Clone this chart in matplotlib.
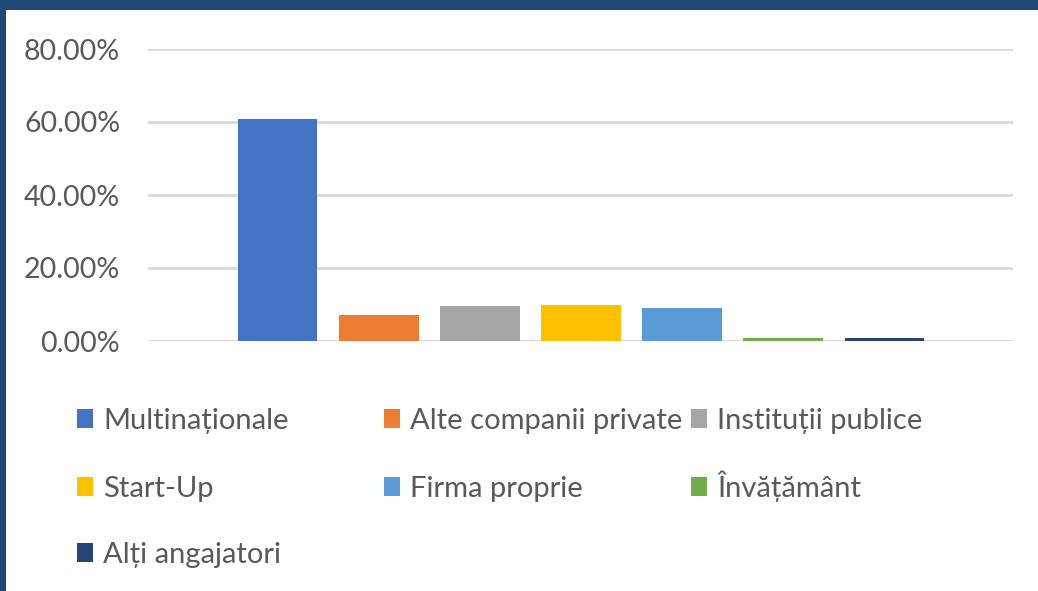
import matplotlib
matplotlib.use("Agg")
import matplotlib.pyplot as plt
from matplotlib.patches import Rectangle
from matplotlib.ticker import PercentFormatter

categories = ["Multinaționale", "Alte companii private", "Instituții publice",
              "Start-Up", "Firma proprie", "Învățământ", "Alți angajatori"]
values = [0.608, 0.072, 0.095, 0.100, 0.090, 0.009, 0.008]
colors = ["#4472C4", "#ED7D31", "#A5A5A5", "#FFC000", "#5B9BD5", "#70AD47", "#264478"]

plt.rcParams['font.family'] = ['Lato', 'DejaVu Sans']

fig = plt.figure(figsize=(10.38, 5.91), dpi=100)
fig.patch.set_facecolor("#1F4A78")
fig.add_artist(Rectangle((6 / 1038, 0), 1 - 6 / 1038, 1 - 10 / 591,
                         transform=fig.transFigure, facecolor="white",
                         edgecolor="none", zorder=0))

ax = fig.add_axes([148 / 1038, 1 - 341 / 591, (1013 - 148) / 1038, (341 - 49) / 591])
ax.set_facecolor("none")

bars = []
for i, (cat, v, c) in enumerate(zip(categories, values, colors)):
    b = ax.bar(i, v, width=0.79, color=c, label=cat, zorder=3)
    bars.append(b)

ax.set_xlim(-1.28, 7.27)
ax.set_ylim(0, 0.8)
ax.set_yticks([0, 0.2, 0.4, 0.6, 0.8])
ax.yaxis.set_major_formatter(PercentFormatter(1.0, decimals=2))
ax.set_xticks([])
ax.grid(axis="y", color="#D9D9D9", linewidth=2, zorder=0)
for s in ax.spines.values():
    s.set_visible(False)
ax.tick_params(axis="y", length=0, pad=20, labelsize=20.5, labelcolor="#595959")

# legend entries laid out on a grid like Excel does
rows_y = [434, 502, 568]   # bottom of each legend row, in pixels
cols_x = [77, 384, 691]
order = [(0, 0, 0), (1, 0, 1), (2, 0, 2), (3, 1, 0), (4, 1, 1), (5, 1, 2), (6, 2, 0)]
for i, r, c in order:
    leg = fig.legend([bars[i]], [categories[i]], loc="lower left",
                     bbox_to_anchor=(cols_x[c] / 1038, 1 - rows_y[r] / 591),
                     frameon=False, fontsize=21, labelcolor="#595959",
                     handlelength=0.55, handleheight=0.65, handletextpad=0.35,
                     borderpad=0, borderaxespad=0)

fig.savefig("out.png", dpi=100)
